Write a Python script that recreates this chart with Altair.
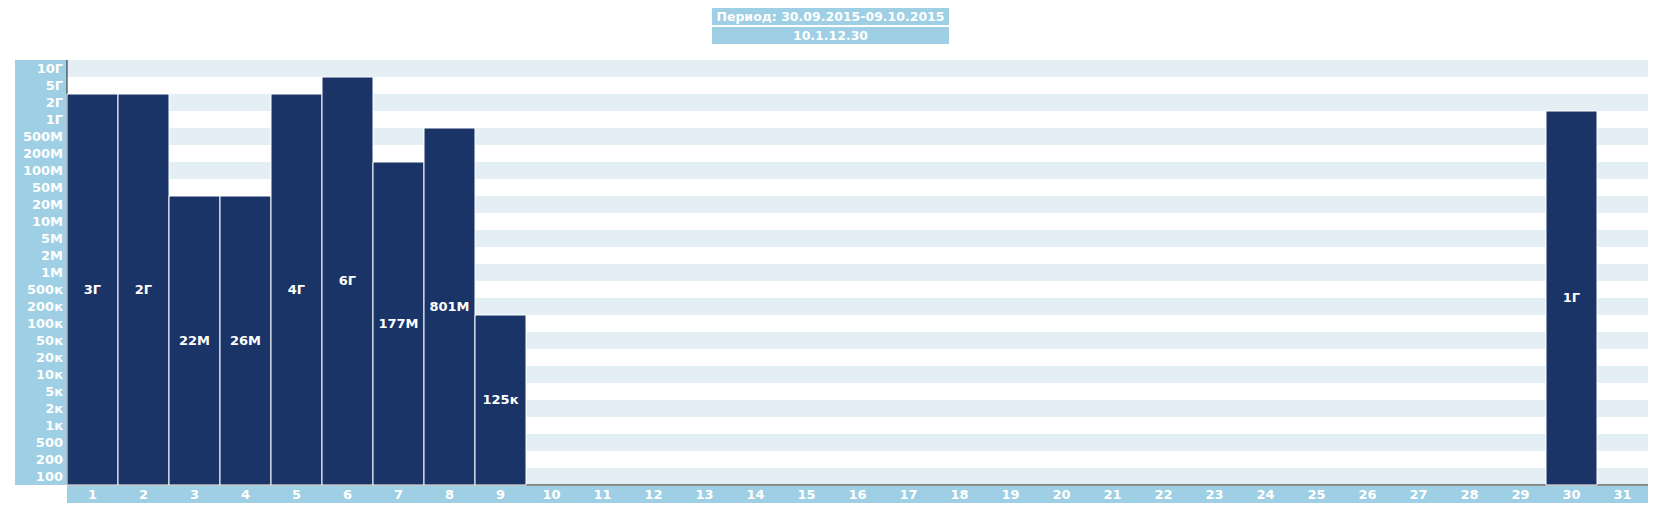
import altair as alt
import pandas as pd

# ---- data ----
days = list(range(1, 32))
values = [3e9, 2e9, 22e6, 26e6, 4e9, 6e9, 177e6, 801e6, 125e3] + [0] * 20 + [1e9, 0]
bar_labels = ["3Г", "2Г", "22М", "26М", "4Г", "6Г", "177М", "801М", "125к"] + [""] * 20 + ["1Г", ""]
tick_values = [1e2, 2e2, 5e2, 1e3, 2e3, 5e3, 1e4, 2e4, 5e4, 1e5, 2e5, 5e5, 1e6, 2e6, 5e6,
               1e7, 2e7, 5e7, 1e8, 2e8, 5e8, 1e9, 2e9, 5e9, 1e10]
tick_labels = ["100", "200", "500", "1к", "2к", "5к", "10к", "20к", "50к", "100к", "200к", "500к",
               "1М", "2М", "5М", "10М", "20М", "50М", "100М", "200М", "500М", "1Г", "2Г", "5Г", "10Г"]
title1 = "Период: 30.09.2015-09.10.2015"
title2 = "10.1.12.30"

NAVY = "#1b3468"
LIGHT = "#9ecfe4"
STRIPE = "#e4eff5"
FONT = "DejaVu Sans"
FS = 13

W, H = 1581, 425
NROWS = len(tick_values)

# bar height = number of scale rows reached
heights = [sum(1 for t in tick_values if v >= t) for v in values]
bars_df = pd.DataFrame({"day": days, "value": values, "label": bar_labels, "h": heights})
bars_df["mid"] = bars_df["h"] / 2

rows_df = pd.DataFrame({"i": list(range(NROWS)), "label": tick_labels})
rows_df["i2"] = rows_df["i"] + 1
rows_df["c"] = rows_df["i"] + 0.5
rows_df["shade"] = ["a" if i % 2 == 0 else "b" for i in rows_df["i"]]

yscale = alt.Scale(domain=[0, NROWS], nice=False, zero=True)
xscale = alt.Scale(domain=days, paddingInner=0, paddingOuter=0)

one = pd.DataFrame({"k": [0]})

stripes = alt.Chart(rows_df).mark_rect().encode(
    x=alt.value(0), x2=alt.value(W),
    y=alt.Y("i:Q", scale=yscale, axis=None), y2="i2:Q",
    color=alt.Color("shade:N", scale=alt.Scale(domain=["a", "b"], range=[STRIPE, "white"]), legend=None),
)

ylab_band = alt.Chart(one).mark_rect(color=LIGHT).encode(
    x=alt.value(-52), x2=alt.value(0), y=alt.value(0), y2=alt.value(H)
)
ylabels = alt.Chart(rows_df).mark_text(
    align="right", baseline="middle", font=FONT, fontWeight="bold", fontSize=FS, color="white"
).encode(x=alt.value(-4), y=alt.Y("c:Q", scale=yscale, axis=None), text="label:N")

xlab_band = alt.Chart(one).mark_rect(color=LIGHT).encode(
    x=alt.value(0), x2=alt.value(W), y=alt.value(H + 1), y2=alt.value(H + 18)
)

axis_left = alt.Chart(one).mark_rule(color="#222222", strokeWidth=1).encode(
    x=alt.value(0), y=alt.value(0), y2=alt.value(H)
)
axis_bottom = alt.Chart(one).mark_rule(color="#222222", strokeWidth=1).encode(
    x=alt.value(0), x2=alt.value(W), y=alt.value(H)
)

base = alt.Chart(bars_df)
bars = base.transform_filter("datum.h > 0").mark_bar(
    color=NAVY, stroke="white", strokeWidth=1
).encode(
    x=alt.X("day:O", scale=xscale, axis=None),
    y=alt.Y("h:Q", scale=yscale, axis=None),
    y2=alt.datum(0),
)
bar_text = base.transform_filter("datum.h > 0").mark_text(
    font=FONT, fontWeight="bold", fontSize=FS, color="white", baseline="middle"
).encode(
    x=alt.X("day:O", scale=xscale, axis=None),
    y=alt.Y("mid:Q", scale=yscale, axis=None),
    text="label:N",
)
xlabels = base.mark_text(
    font=FONT, fontWeight="bold", fontSize=FS, color="white", baseline="middle"
).encode(
    x=alt.X("day:O", scale=xscale, axis=None),
    y=alt.value(H + 9.5),
    text="day:N",
)

tbox1 = alt.Chart(one).mark_rect(color=LIGHT).encode(
    x=alt.value(645), x2=alt.value(882), y=alt.value(-52), y2=alt.value(-35)
)
tbox2 = alt.Chart(one).mark_rect(color=LIGHT).encode(
    x=alt.value(645), x2=alt.value(882), y=alt.value(-33), y2=alt.value(-16)
)
ttext1 = alt.Chart(one).mark_text(
    font=FONT, fontWeight="bold", fontSize=12.5, color="white", baseline="middle", align="center"
).encode(x=alt.value(763.5), y=alt.value(-43.5), text=alt.value(title1))
ttext2 = alt.Chart(one).mark_text(
    font=FONT, fontWeight="bold", fontSize=12.5, color="white", baseline="middle", align="center"
).encode(x=alt.value(763.5), y=alt.value(-24.5), text=alt.value(title2))

chart = alt.layer(
    stripes, ylab_band, ylabels, xlab_band, axis_left, axis_bottom,
    bars, bar_text, xlabels, tbox1, tbox2, ttext1, ttext2
).properties(
    width=W, height=H,
    autosize=alt.AutoSizeParams(type="none"),
    padding={"left": 59, "top": 52, "right": 5, "bottom": 20},
).configure_view(strokeWidth=0)

chart.save("out.html", embed_options={"renderer": "svg", "actions": False})
